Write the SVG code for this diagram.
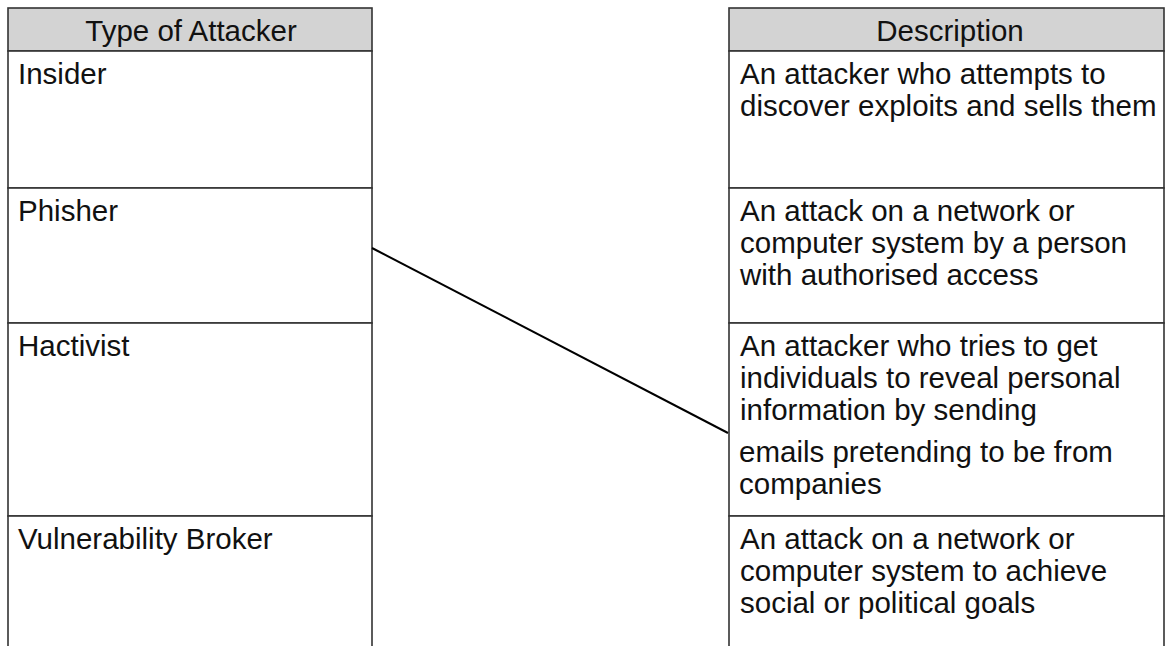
<svg xmlns="http://www.w3.org/2000/svg" width="1166" height="646" viewBox="0 0 1166 646">
<style>
text{font-family:"Liberation Sans",Arial,sans-serif;font-size:29.5px;fill:#111}
.hd{fill:#d3d3d3;stroke:#333;stroke-width:1.6}
.cell{fill:#fff;stroke:#333;stroke-width:1.6}
.c{text-anchor:middle}
.conn{stroke:#000;stroke-width:2;fill:none}
</style>
<rect width="1166" height="646" fill="#fff"/>
<g id="left-header"><rect class="hd" x="8" y="8" width="364" height="43"/><text class="c" x="191" y="40.5">Type of Attacker</text></g>
<g id="insider"><rect class="cell" x="8" y="51" width="364" height="137"/><text x="18" y="83.5">Insider</text></g>
<g id="phisher"><rect class="cell" x="8" y="188" width="364" height="135"/><text x="18" y="220.5">Phisher</text></g>
<g id="hactivist"><rect class="cell" x="8" y="323" width="364" height="193"/><text x="18" y="355.5">Hactivist</text></g>
<g id="broker"><rect class="cell" x="8" y="516" width="364" height="140"/><text x="18" y="548.5">Vulnerability Broker</text></g>
<g id="right-header"><rect class="hd" x="729" y="8" width="435" height="43"/><text class="c" x="950" y="40.5">Description</text></g>
<g id="desc1"><rect class="cell" x="729" y="51" width="435" height="137"/><text x="740" y="83.5">An attacker who attempts to</text><text x="740" y="115.5">discover exploits and sells them</text></g>
<g id="desc2"><rect class="cell" x="729" y="188" width="435" height="135"/><text x="740" y="220.5">An attack on a network or</text><text x="740" y="252.5">computer system by a person</text><text x="740" y="284.5">with authorised access</text></g>
<g id="desc3"><rect class="cell" x="729" y="323" width="435" height="193"/><text x="740" y="355.5">An attacker who tries to get</text><text x="740" y="387.5">individuals to reveal personal</text><text x="740" y="419.5">information by sending</text><text x="739" y="461.5">emails pretending to be from</text><text x="739" y="493.5">companies</text></g>
<g id="desc4"><rect class="cell" x="729" y="516" width="435" height="140"/><text x="740" y="548.5">An attack on a network or</text><text x="740" y="580.5">computer system to achieve</text><text x="740" y="612.5">social or political goals</text></g>
<g id="connectors"><line class="conn" x1="372" y1="248" x2="728" y2="433"/></g>
</svg>
